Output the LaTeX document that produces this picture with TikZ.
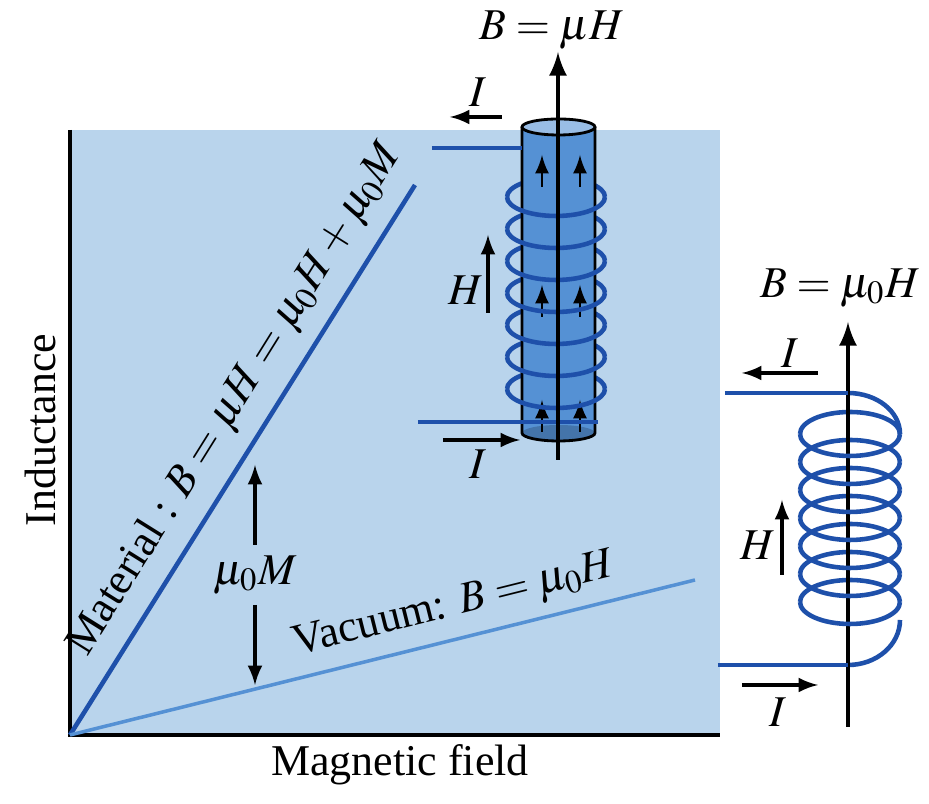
\documentclass[tikz,border=0pt]{standalone}
\usepackage{mathptmx}
\usepackage[no-math]{fontspec}
\setmainfont{Liberation Serif}
\definecolor{panel}{RGB}{185,212,236}
\definecolor{wire}{RGB}{30,80,170}
\definecolor{rod}{RGB}{85,145,212}
\tikzset{
  lbl/.style={font=\fontsize{12.5}{15}\selectfont},
  coil/.style={wire, line width=1.3pt},
  curr/.style={-latex, line width=0.9pt}
}
\begin{document}
\begin{tikzpicture}[x=0.01cm,y=-0.01cm]
        \useasboundingbox (0,0) rectangle (929,804);
        \fill[panel] (70,130) rectangle (720,735);
        \draw[line width=1pt] (70,130) -- (70,735) -- (720,735);
        % field lines
        \draw[wire, line width=1.3pt] (70,735) -- (415,185);
        \draw[rod, line width=1pt] (70,735) -- (695,580);
        \node[lbl, rotate=58] (mat) at (236,400) {Material : $B=\mu H=\mu_0H+\mu_0M$};
        \node[lbl, rotate=14] (vac) at (455,606) {Vacuum: $B=\mu_0H$};
        \node[lbl] (mm) at (255,575) {$\mu_0M$};
        \draw[curr] (255,545) -- (255,465);
        \draw[curr] (255,605) -- (255,685);
        \node[lbl, rotate=90] (ylab) at (40,430) {Inductance};
        \node[lbl] (xlab) at (400,765) {Magnetic field};
        % material coil
        \foreach \y in {197,229,...,390} \draw[coil] (605,\y) arc (0:-180:49 and 19);
        \fill[rod] (522,127) rectangle (595,433);
        \fill[rod!80!black] (558.5,433) ellipse (36.5 and 8);
        \draw[black, thick] (522,127) -- (522,433) arc (180:0:36.5 and 8) -- (595,127);
        \fill[rod!60!white] (558.5,127) ellipse (36.5 and 8);
        \draw[black, thick] (558.5,127) ellipse (36.5 and 8);
        \foreach \y in {165,295,410}
          \foreach \x in {542,580} \draw[-latex, thick] (\x,\y+22) -- (\x,\y-10);
        \foreach \y in {197,229,...,390} \draw[coil] (605,\y) arc (0:180:49 and 19);
        \draw[coil] (432,148) -- (522,148);
        \draw[coil] (418,422) -- (598,422);
        \draw[-latex, line width=1.3pt] (558,460) -- (558,52);
        \node[lbl] (b1) at (552,30) {$B=\mu H$};
        \draw[curr] (502,117) -- (450,117);
        \node[lbl] (i1) at (478,92) {$I$};
        \draw[curr] (443,440) -- (520,440);
        \node[lbl] (i2) at (478,464) {$I$};
        \draw[curr] (488,313) -- (488,235);
        \node[lbl] (h1) at (466,290) {$H$};
        % vacuum coil
        \foreach \y in {434,462,...,610} \draw[coil] (900,\y) arc (0:-180:50 and 22);
        \draw[coil] (848,393) arc (-90:0:52 and 41);
        \draw[coil] (848,665) arc (90:0:52 and 45);
        \draw[-latex, line width=1.3pt] (848,727) -- (848,322);
        \foreach \y in {434,462,...,610} \draw[coil] (900,\y) arc (0:180:50 and 22);
        \draw[coil] (725,393) -- (848,393);
        \draw[coil] (718,665) -- (848,665);
        \node[lbl] (b2) at (840,288) {$B=\mu_0H$};
        \draw[curr] (818,373) -- (742,373);
        \node[lbl] (i3) at (790,353) {$I$};
        \draw[curr] (742,685) -- (818,685);
        \node[lbl] (i4) at (778,712) {$I$};
        \draw[curr] (782,575) -- (782,500);
        \node[lbl] (h2) at (758,545) {$H$};
    \end{tikzpicture}
\end{document}
